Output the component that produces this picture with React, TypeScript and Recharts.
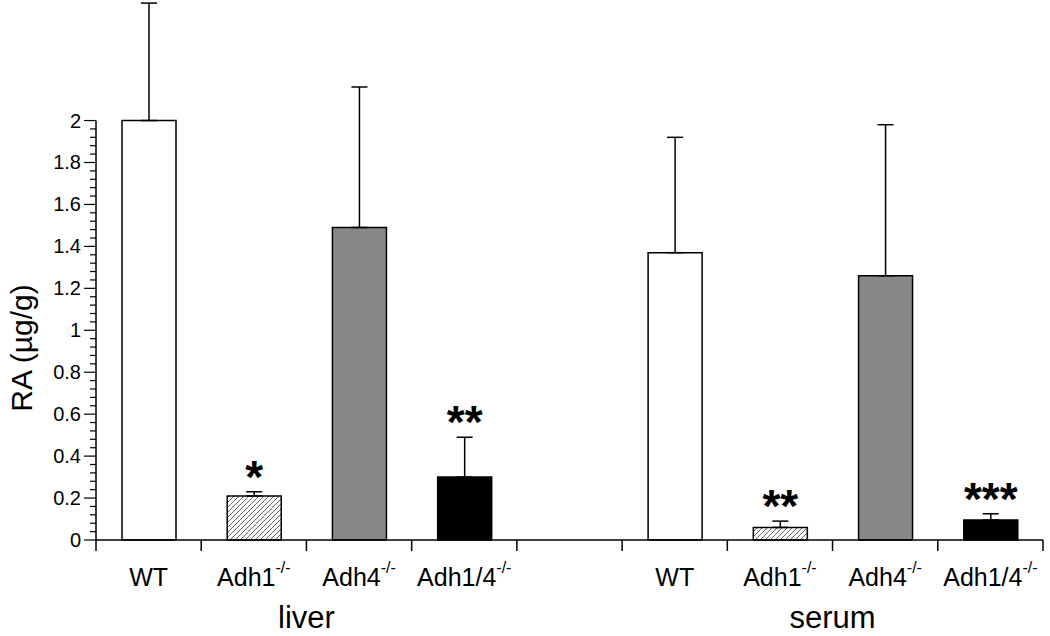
import { Bar, BarChart, Cell, ErrorBar, LabelList, ReferenceLine, XAxis, YAxis } from "recharts";

const FONT = "'Liberation Sans', Arial, Helvetica, sans-serif";

// nine slots on the x axis, the fifth one is the gap between liver and serum
const genotypes = ["WT", "Adh1", "Adh4", "Adh1/4", "", "WT", "Adh1", "Adh4", "Adh1/4"];
const superscripts = ["", "-/-", "-/-", "-/-", "", "", "-/-", "-/-", "-/-"];
const raValues = [2.0, 0.21, 1.49, 0.3, null, 1.37, 0.06, 1.26, 0.095];
const raErrors = [0.56, 0.02, 0.67, 0.19, null, 0.55, 0.03, 0.72, 0.03];
const significance = ["", "*", "", "**", "", "", "**", "", "***"];
const barFills = ["#ffffff", "url(#hatch)", "#888888", "#000000", "none", "#ffffff", "url(#hatch)", "#888888", "#000000"];

const groupNames = ["liver", "serum"];
const groupCenterAfter = [1, 6]; // group label sits on the boundary right of this slot

const majorTicks = [0, 0.2, 0.4, 0.6, 0.8, 1, 1.2, 1.4, 1.6, 1.8, 2];
const minorPerMajor = 5;

const yTicks: number[] = [];
majorTicks.forEach((t, i) => {
  yTicks.push(t);
  if (i < majorTicks.length - 1) {
    const step = (majorTicks[i + 1] - t) / minorPerMajor;
    for (let k = 1; k < minorPerMajor; k++) yTicks.push(Math.round((t + k * step) * 1000) / 1000);
  }
});

const data = genotypes.map((g, i) => ({
  key: String(i),
  ra: raValues[i],
  err: raErrors[i] == null ? null : [0, raErrors[i]],
}));

function CategoryTick(props: any) {
  const { x, y, payload } = props;
  const i = payload?.index ?? props.index ?? 0;
  const half = payload?.offset ?? 52.6;
  const gi = groupCenterAfter.indexOf(i);
  return (
    <g>
      <line x1={x - half} x2={x - half} y1={y} y2={y + 11} stroke="#000" strokeWidth={1.5} />
      {i === genotypes.length - 1 && (
        <line x1={x + half} x2={x + half} y1={y} y2={y + 11} stroke="#000" strokeWidth={1.5} />
      )}
      <text x={x} y={y + 46} textAnchor="middle" fontSize={25} fontFamily={FONT} fill="#000">
        {genotypes[i]}
        {superscripts[i] ? (
          <tspan dy={-13} fontSize={16}>
            {superscripts[i]}
          </tspan>
        ) : null}
      </text>
      {gi >= 0 && (
        <text x={x + half} y={y + 88} textAnchor="middle" fontSize={31} fontFamily={FONT} fill="#000">
          {groupNames[gi]}
        </text>
      )}
    </g>
  );
}

function ValueTick(props: any) {
  const { x, y, payload } = props;
  const v = Math.round(payload.value * 100) / 100;
  const major = majorTicks.includes(v);
  return (
    <g>
      <line x1={x - (major ? 12 : 6)} x2={x} y1={y} y2={y} stroke="#000" strokeWidth={1.2} />
      {major && (
        <text x={x - 15} y={y} dy="0.35em" textAnchor="end" fontSize={20} fontFamily={FONT} fill="#000">
          {String(v)}
        </text>
      )}
    </g>
  );
}

function YTitle(props: any) {
  const vb = props.viewBox ?? { x: 0, y: 0, width: 96, height: 540 };
  const cx = vb.x + 21;
  const cy = vb.y + vb.height - 192;
  return (
    <text
      x={cx}
      y={cy}
      transform={`rotate(-90, ${cx}, ${cy})`}
      textAnchor="middle"
      dominantBaseline="central"
      fontSize={30}
      fontFamily={FONT}
      fill="#000"
    >
      RA (µg/g)
    </text>
  );
}

function StarLabel(props: any) {
  const vb = props.viewBox ?? props;
  const { x, y, width, height } = vb;
  const i = Number(props.value);
  const text = significance[i];
  const v = raValues[i];
  if (!text || v == null || !height) return null;
  const pxPerUnit = height / v;
  const capY = y - (raErrors[i] ?? 0) * pxPerUnit;
  return (
    <text x={x + width / 2} y={capY + 1} textAnchor="middle" fontSize={46} fontWeight="bold" fontFamily={FONT} fill="#000">
      {text}
    </text>
  );
}

export default function App() {
  return (
    <div style={{ position: "absolute", left: 0, top: 0, background: "#fff" }}>
      <svg width={0} height={0} style={{ position: "absolute" }}>
        <defs>
          <pattern id="hatch" patternUnits="userSpaceOnUse" width={5} height={5}>
            <rect width={5} height={5} fill="#fff" />
            <path d="M0,5 L5,0 M-1,1 L1,-1 M4,6 L6,4" stroke="#555" strokeWidth={0.9} />
          </pattern>
        </defs>
      </svg>
      <BarChart width={1050} height={636} data={data} margin={{ top: 1, right: 7, bottom: 0, left: 0 }}>
        <XAxis
          xAxisId="cat"
          dataKey="key"
          type="category"
          interval={0}
          height={96}
          tickSize={0}
          tickMargin={0}
          tickLine={false}
          axisLine={{ stroke: "#000", strokeWidth: 1.5 }}
          tick={<CategoryTick />}
        />
        <XAxis xAxisId="num" type="number" domain={[0, genotypes.length]} allowDataOverflow hide />
        <YAxis
          type="number"
          domain={[0, 2.57]}
          ticks={yTicks}
          interval={0}
          width={96}
          tickSize={0}
          tickMargin={0}
          tickLine={false}
          axisLine={false}
          tick={<ValueTick />}
          label={<YTitle />}
        />
        <ReferenceLine
          xAxisId="num"
          segment={[
            { x: 0, y: 0 },
            { x: 0, y: majorTicks[majorTicks.length - 1] },
          ]}
          stroke="#000"
          strokeWidth={1.5}
        />
        <Bar xAxisId="cat" dataKey="ra" barSize={54} stroke="#000" strokeWidth={1.5} isAnimationActive={false}>
          {data.map((d, i) => (
            <Cell key={d.key} fill={barFills[i]} />
          ))}
          <ErrorBar dataKey="err" direction="y" width={8} stroke="#000" strokeWidth={1.5} />
          <LabelList dataKey="key" content={<StarLabel />} />
        </Bar>
      </BarChart>
    </div>
  );
}
